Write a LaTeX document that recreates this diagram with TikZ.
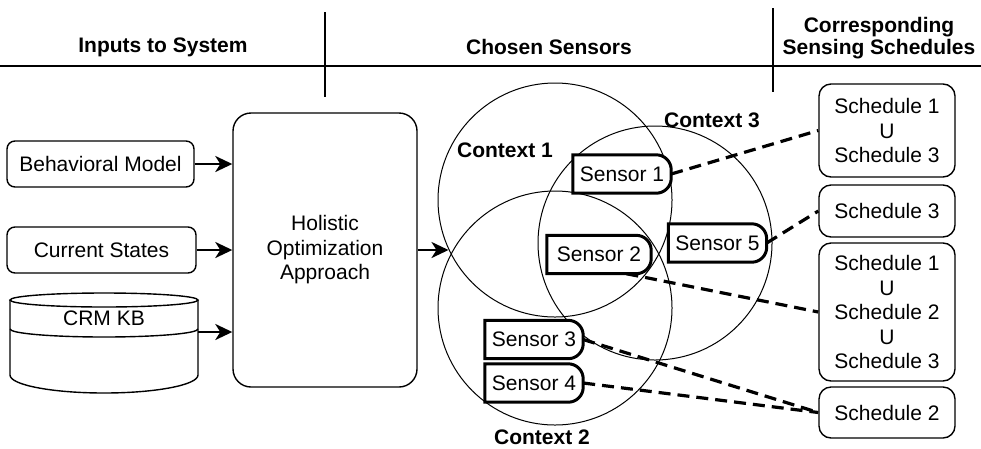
\documentclass[tikz,border=0pt]{standalone}
\usepackage{fontspec}
\setmainfont{Liberation Sans}
\usepackage{tikz}
\usetikzlibrary{arrows.meta}
\pgfdeclarelayer{back}
\pgfsetlayers{back,main}

\begin{document}
\begin{tikzpicture}[x=1pt,y=1pt,yscale=-1,xscale=1,
  every node/.style={font=\fontsize{21}{24.5}\selectfont},
  head/.style={font=\fontsize{21}{22}\selectfont\bfseries, align=center},
  inbox/.style={draw, line width=1.4, rounded corners=8, minimum width=187, minimum height=46},
  schedbox/.style={draw, line width=1.4, rounded corners=12, minimum width=136, align=center, inner sep=0},
  sensorbox/.style={minimum width=98, minimum height=38, inner sep=0},
  sensorline/.style={line width=3, fill=white},
  ctx/.style={draw, circle, line width=1, minimum size=234, inner sep=0},
  feed/.style={-{Stealth[length=17, width=16, inset=5]}, line width=2.6},
  link/.style={line width=3.2, dash pattern=on 12 off 7},
]
\useasboundingbox (0,0) rectangle (981,448);

% Header lines
\draw [line width=1.2] (0,66) -- (981,66);
\draw [line width=1.2] (325,12) -- (325,97);
\draw [line width=1.2] (773,8) -- (773,92);

% Text Node
\node [head] (inputs) at (163,47) {Inputs to System};
% Text Node
\node [head] (chosen) at (549,47) {Chosen Sensors};
% Text Node
\node [head] (corr) at (879,38) {Corresponding\\Sensing Schedules};

% Input boxes
\node [inbox] (bm) at (100.5,164) {Behavioral Model};
\node [inbox, minimum width=189] (cs) at (101.5,250) {Current States};

% Database
\draw [line width=1.4] (104,300) ellipse [x radius=94, y radius=7];
\draw [line width=1.4] (10,300) -- (10,375) arc [start angle=180, end angle=0, x radius=94, y radius=18] -- (198,300);
\draw [line width=1.4] (10,329) arc [start angle=180, end angle=0, x radius=94, y radius=8];
\node (kb) at (104,318) {CRM KB};
\coordinate (kbout) at (198,332);

% Optimizer
\node [draw, line width=1.4, rounded corners=18, minimum width=184, minimum height=274, align=center] (hol) at (325,250) {Holistic\\Optimization\\Approach};

% Contexts
\begin{pgfonlayer}{back}
\node [ctx] (c1) at (555,200) {};
\node [ctx] (c2) at (555,308) {};
\node [ctx] (c3) at (655,243) {};
\end{pgfonlayer}
% Text Node
\node [head] (c1lab) at (505,150) {Context 1};
% Text Node
\node [head] (c3lab) at (712,120) {Context 3};
% Text Node
\node [head] (c2lab) at (542,437) {Context 2};

% Sensors
\node [sensorbox] (s1) at (622,174) {Sensor 1};
\node [sensorbox, minimum width=104] (s2) at (599,254.5) {Sensor 2};
\node [sensorbox] (s5) at (717.5,243) {Sensor 5};
\node [sensorbox] (s3) at (534,339.5) {Sensor 3};
\node [sensorbox] (s4) at (534,383) {Sensor 4};
\begin{pgfonlayer}{back}
\foreach \s in {s1,s2,s3,s4,s5}
  \draw [sensorline] (\s.north west) -- (\s.south west) [rounded corners=15] -- (\s.south east) -- (\s.north east) [sharp corners] -- cycle;
\end{pgfonlayer}

% Schedules
\node [schedbox, minimum height=93] (sa) at (887,130.5) {Schedule 1\\U\\Schedule 3};
\node [schedbox, minimum height=52] (sb) at (887,211) {Schedule 3};
\node [schedbox, minimum height=138] (sc) at (887,312) {Schedule 1\\U\\Schedule 2\\U\\Schedule 3};
\node [schedbox, minimum height=51] (sd) at (887,412.5) {Schedule 2};

% Connection
\draw [feed] (bm.east) -- (bm.east -| hol.west);
% Connection
\draw [feed] (cs.east) -- (cs.east -| hol.west);
% Connection
\draw [feed] (kbout) -- (kbout -| hol.west);
% Connection
\draw [feed] (hol.east) -- (hol.east -| c1.205);

% Connection
\draw [link] (s1.east) -- (sa.west);
% Connection
\draw [link] (s5.east) -- (sb.west);
% Connection
\draw [link] (s2.-35) -- (sc.west);
% Connection
\draw [link] (s3.east) -- (sd.west);
% Connection
\draw [link] (s4.east) -- (sd.west);

\end{tikzpicture}
\end{document}
